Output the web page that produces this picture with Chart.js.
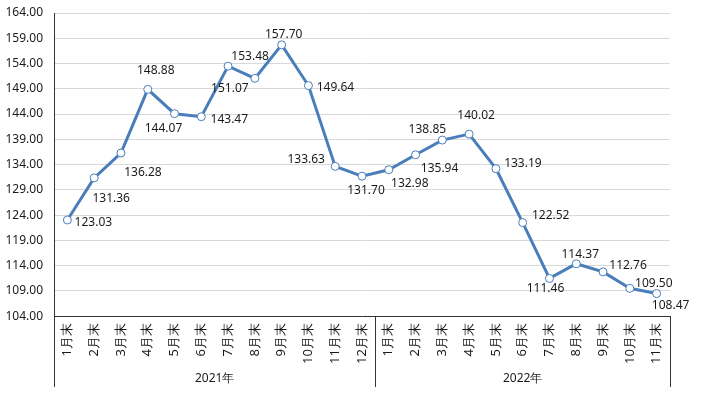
<!DOCTYPE html>
<html>
<head>
<meta charset="utf-8">
<script src="https://cdn.jsdelivr.net/npm/chart.js@4/dist/chart.umd.min.js"></script>
<style>
html, body { margin: 0; padding: 0; background: #fff; }
</style>
</head>
<body>
<canvas id="c" width="701" height="399"></canvas>
<script>
// ----- DATOS ----- //
const MONTHS = ["1月末","2月末","3月末","4月末","5月末","6月末","7月末","8月末","9月末","10月末","11月末","12月末",
                "1月末","2月末","3月末","4月末","5月末","6月末","7月末","8月末","9月末","10月末","11月末"];
const YEARS = ["2021年", "2022年"];
const YEAR_SPAN = [12, 11];
const VALUES = [123.03, 131.36, 136.28, 148.88, 144.07, 143.47, 153.48, 151.07, 157.70, 149.64, 133.63, 131.70,
                132.98, 135.94, 138.85, 140.02, 133.19, 122.52, 111.46, 114.37, 112.76, 109.50, 108.47];
const Y_MIN = 104, Y_MAX = 164, Y_STEP = 5;

// desplazamiento de cada etiqueta respecto a su punto (como en el original)
const labelNudge = [
  [26,3],[17,21],[22,20],[8,-19],[-11,15],[28,3],[22,-10],[-25,10],[2,-10],[27,2],[-29,-7],[4,14],
  [21,14],[24,14],[-15,-10],[7,-19],[27,-5],[28,-7],[-4,10],[4,-9],[25,-6],[24,-5],[14,12]
];

const AXIS_COL = "#333";
const FONT = "'Noto Sans', sans-serif";

// etiquetas de valores
const valueLabels = {
  id: "valueLabels",
  afterDatasetsDraw(chart) {
    const ctx = chart.ctx;
    const meta = chart.getDatasetMeta(0);
    ctx.save();
    ctx.font = "12px " + FONT;
    ctx.fillStyle = "#1a1a1a";
    ctx.textAlign = "center";
    ctx.textBaseline = "middle";
    meta.data.forEach((pt, i) => {
      const n = labelNudge[i] || [0, -12];
      ctx.fillText(VALUES[i].toFixed(2), pt.x + n[0], pt.y + n[1]);
    });
    ctx.restore();
  }
};

// separadores y etiquetas de año
const yearGroups = {
  id: "yearGroups",
  afterDraw(chart) {
    const ctx = chart.ctx;
    const xs = chart.scales.x;
    const area = chart.chartArea;
    const step = xs.getPixelForValue(1) - xs.getPixelForValue(0);
    const bottom = 387;
    ctx.save();
    ctx.strokeStyle = AXIS_COL;
    ctx.lineWidth = 1;
    ctx.font = "12px " + FONT;
    ctx.fillStyle = "#1a1a1a";
    ctx.textAlign = "center";
    ctx.textBaseline = "middle";
    let start = 0;
    YEARS.forEach((y, gi) => {
      const x0 = xs.getPixelForValue(start) - step / 2;
      const x1 = xs.getPixelForValue(start + YEAR_SPAN[gi] - 1) + step / 2;
      [x0, x1].forEach(x => {
        ctx.beginPath();
        ctx.moveTo(Math.round(x) + 0.5, area.bottom);
        ctx.lineTo(Math.round(x) + 0.5, bottom);
        ctx.stroke();
      });
      ctx.fillText(y, (x0 + x1) / 2, 379);
      start += YEAR_SPAN[gi];
    });
    ctx.restore();
  }
};

new Chart(document.getElementById("c").getContext("2d"), {
  type: "line",
  data: {
    labels: MONTHS,
    datasets: [{
      data: VALUES,
      borderColor: "#4a7ebb",
      borderWidth: 3,
      pointRadius: 4,
      pointBackgroundColor: "#fff",
      pointBorderColor: "#4a7ebb",
      pointBorderWidth: 1,
      tension: 0,
      fill: false
    }]
  },
  options: {
    responsive: false,
    animation: false,
    layout: { padding: { left: 0, right: 31, top: 13, bottom: 28 } },
    plugins: { legend: { display: false }, tooltip: { enabled: false } },
    scales: {
      x: {
        offset: true,
        grid: { display: false, drawTicks: false },
        border: { color: AXIS_COL, width: 1 },
        ticks: {
          minRotation: 90, maxRotation: 90, autoSkip: false, padding: 7,
          color: "#1a1a1a", font: { family: FONT, size: 13 }
        }
      },
      y: {
        min: Y_MIN, max: Y_MAX,
        afterFit(s) { s.width = 54; s.paddingTop = 0; s.paddingBottom = 0; },
        grid: { color: "#d9d9d9", drawTicks: false },
        border: { color: AXIS_COL, width: 1 },
        ticks: {
          stepSize: Y_STEP, padding: 11, color: "#1a1a1a",
          font: { family: FONT, size: 12 },
          callback: v => v.toFixed(2)
        }
      }
    }
  },
  plugins: [valueLabels, yearGroups]
});
</script>
</body>
</html>
